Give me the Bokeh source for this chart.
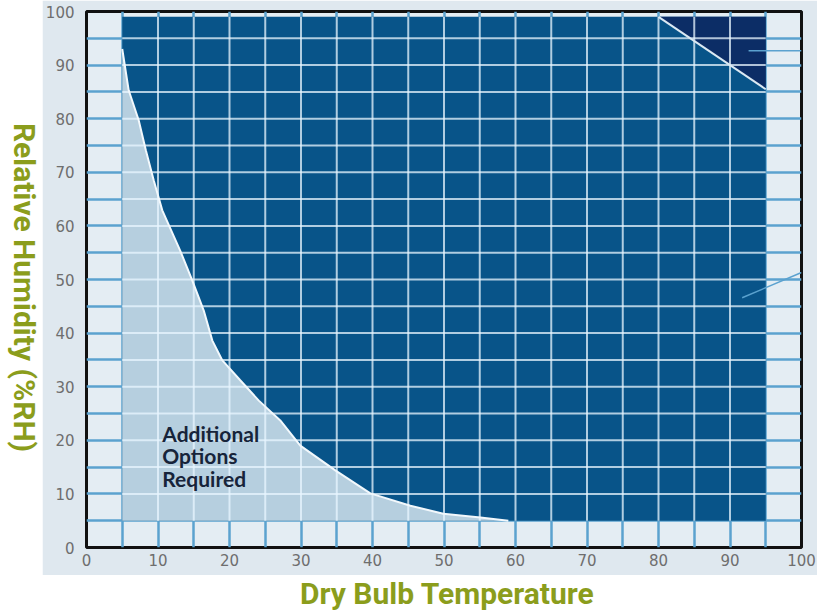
import math
from bokeh.plotting import figure
from bokeh.layouts import row, column
from bokeh.models import Range1d, FixedTicker, LinearAxis, Grid, ColumnDataSource
from bokeh.core.properties import value
from bokeh.embed import file_html
from bokeh.resources import INLINE

# ---------------- data ----------------
x_ticks = [0, 10, 20, 30, 40, 50, 60, 70, 80, 90, 100]
y_ticks = [0, 10, 20, 30, 40, 50, 60, 70, 80, 90, 100]
grid_lines = [5, 10, 15, 20, 25, 30, 35, 40, 45, 50, 55, 60, 65, 70, 75, 80, 85, 90, 95]
inner_x_lines = [10, 15, 20, 25, 30, 35, 40, 45, 50, 55, 60, 65, 70, 75, 80, 85, 90]
inner_y_lines = [10, 15, 20, 25, 30, 35, 40, 45, 50, 55, 60, 65, 70, 75, 80, 85, 90, 95]

# operating envelope (dry bulb temperature / relative humidity)
envelope_temp = [5, 95]
envelope_rh = [5, 99]

# "Additional Options Required" boundary curve
curve_temp = [5, 5.9, 7.3, 8.3, 9.4, 10.6, 13.1, 14.8, 16.4, 17.6, 19.0, 21.5, 24.1,
              27.1, 29.9, 34.8, 39.7, 45.3, 49.9, 55.1, 59.0]
curve_rh = [93, 85.3, 79.7, 74.1, 68.5, 62.9, 55.4, 49.8, 44.2, 38.6, 34.9, 31.2, 27.4,
            23.7, 19.0, 14.4, 10.1, 7.8, 6.3, 5.6, 5.0]

# high temperature / high humidity zone (top right)
high_temp = [80, 95, 95]
high_rh = [99, 85.5, 99]

# leader lines
leader1_temp = [92.6, 100]
leader1_rh = [92.7, 92.7]
leader2_temp = [91.7, 100]
leader2_rh = [46.6, 51.3]

note_lines = ["Additional", "Options", "Required"]
note_temp = [10.6, 10.6, 10.6]
note_rh = [21.3, 17.1, 12.9]

x_title = "Dry Bulb Temperature"
y_title = "Relative Humidity (%RH)"

# ---------------- colours ----------------
DARK = "#085489"
NAVY = "#0c2d66"
PALE = "#b6cfdf"
LIGHT = "#e4edf3"
OUTER = "#dfe8ef"
MIDBLUE = "#5ba2cf"
GREEN = "#8b9d1c"

# ---------------- main chart ----------------
p = figure(width=775, height=575, x_range=Range1d(0, 100), y_range=Range1d(0, 100),
           output_backend="svg", toolbar_location=None, title=None,
           x_axis_location=None, y_axis_location=None,
           min_border_left=44, min_border_right=16, min_border_top=11, min_border_bottom=28)
p.background_fill_color = LIGHT
p.border_fill_color = OUTER
p.outline_line_color = "#111111"
p.outline_line_width = 3
p.grid.visible = False

# medium blue grid
p.add_layout(Grid(dimension=0, ticker=FixedTicker(ticks=grid_lines),
                  grid_line_color=MIDBLUE, grid_line_width=2.5))
p.add_layout(Grid(dimension=1, ticker=FixedTicker(ticks=grid_lines),
                  grid_line_color=MIDBLUE, grid_line_width=2.5))

def tick_axis(ticks):
    ax = LinearAxis(ticker=FixedTicker(ticks=ticks))
    ax.axis_line_color = None
    ax.major_tick_line_color = None
    ax.minor_tick_line_color = None
    ax.major_tick_in = 0
    ax.major_tick_out = 0
    ax.minor_tick_in = 0
    ax.minor_tick_out = 0
    ax.major_label_text_font = "DejaVu Sans"
    ax.major_label_text_font_size = "15px"
    ax.major_label_text_color = "#6e6e6e"
    return ax

xa = tick_axis(x_ticks)
xa.major_label_standoff = 6
ya = tick_axis(y_ticks)
ya.major_label_standoff = 12
p.add_layout(xa, "below")
p.add_layout(ya, "left")

# operating envelope
p.quad(left=[envelope_temp[0]], right=[envelope_temp[1]],
       bottom=[envelope_rh[0]], top=[envelope_rh[1]],
       fill_color=DARK, line_color=None)
p.patch(high_temp, high_rh, fill_color=NAVY, line_color=None)

opt_x = [envelope_temp[0]] + curve_temp
opt_y = [envelope_rh[0]] + curve_rh
p.patch(opt_x, opt_y, fill_color=PALE, line_color=None)

# inner light grid
vsrc = ColumnDataSource(dict(x=inner_x_lines,
                             y0=[envelope_rh[0]] * len(inner_x_lines),
                             y1=[envelope_rh[1]] * len(inner_x_lines)))
p.segment(x0="x", x1="x", y0="y0", y1="y1", source=vsrc,
          line_color="#e8f6ff", line_alpha=0.75, line_width=2)
hsrc = ColumnDataSource(dict(y=inner_y_lines,
                             x0=[envelope_temp[0]] * len(inner_y_lines),
                             x1=[envelope_temp[1]] * len(inner_y_lines)))
p.segment(x0="x0", x1="x1", y0="y", y1="y", source=hsrc,
          line_color="#e8f6ff", line_alpha=0.75, line_width=2)

# boundaries
p.line(curve_temp, curve_rh, line_color="#f2f8fc", line_width=2)
p.line(high_temp[:2], high_rh[:2], line_color="#dbe9f3", line_width=2)

# leader lines
p.line(leader1_temp, leader1_rh, line_color=MIDBLUE, line_width=1.5)
p.line(leader2_temp, leader2_rh, line_color=MIDBLUE, line_width=1.5)

# note
p.text(x=note_temp, y=note_rh, text=note_lines, text_font=value("Lato"),
       text_font_style="bold", text_font_size="21px", text_color="#17243a",
       text_baseline="middle", text_align="left")

# ---------------- title strips ----------------
def strip(w, h):
    f = figure(width=w, height=h, x_range=Range1d(0, w), y_range=Range1d(0, h),
               output_backend="svg", toolbar_location=None, title=None,
               x_axis_location=None, y_axis_location=None,
               min_border=0, outline_line_color=None)
    f.grid.visible = False
    f.background_fill_color = "white"
    f.border_fill_color = "white"
    return f

yfig = strip(42, 610)
yfig.text(x=[23.5], y=[323], text=[y_title], angle=-math.pi / 2,
          text_font=value("Roboto"), text_font_style="bold", text_font_size="30px",
          text_color=GREEN, text_align="center", text_baseline="middle")

xfig = strip(775, 35)
xfig.text(x=[391], y=[17.5], text=[x_title],
          text_font=value("Roboto"), text_font_style="bold", text_font_size="30px",
          text_color=GREEN, text_align="center", text_baseline="middle")

layout = row(yfig, column(p, xfig))
open("out.html", "w").write(file_html(layout, INLINE))
